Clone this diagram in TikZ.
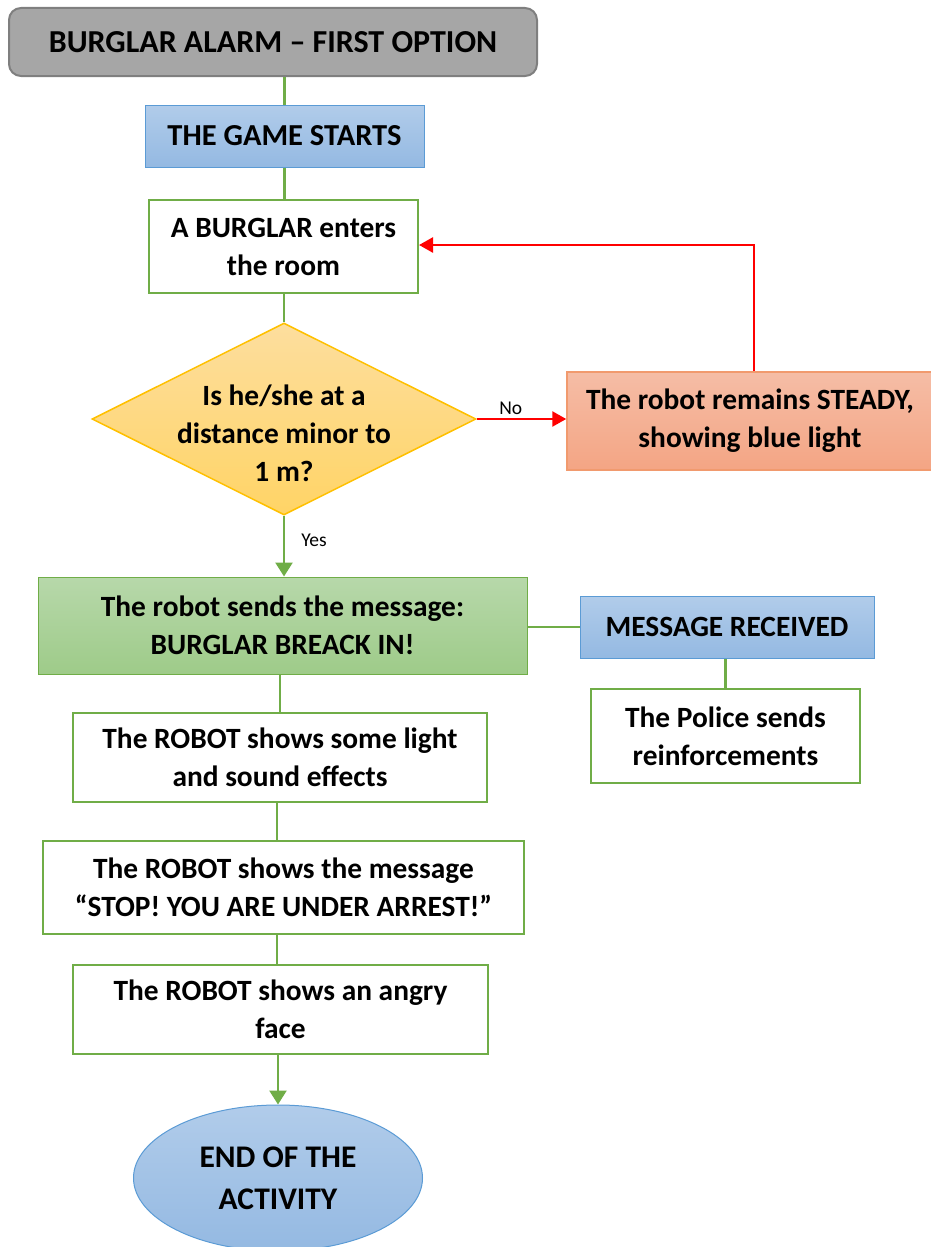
\documentclass[tikz,border=0pt]{standalone}
\usepackage{fontspec}
\setmainfont{Carlito}
\usetikzlibrary{arrows.meta,shapes.geometric}
\definecolor{gline}{HTML}{70AD47}
\definecolor{bblue}{HTML}{5B9BD5}
\definecolor{btop}{HTML}{B1CCEA}
\definecolor{bbot}{HTML}{94B9E2}
\definecolor{gtop}{HTML}{B7D8AA}
\definecolor{gbot}{HTML}{9ECB89}
\definecolor{otop}{HTML}{F5BDA6}
\definecolor{obot}{HTML}{F4A584}
\definecolor{oborder}{HTML}{F19A6E}
\definecolor{ytop}{HTML}{FDDE9E}
\definecolor{ybot}{HTML}{FFD466}
\definecolor{yborder}{HTML}{FFC000}
\definecolor{titlefill}{HTML}{A6A6A6}
\definecolor{titleborder}{HTML}{7F7F7F}
\tikzset{
  txt/.style={font=\fontsize{29.4}{38}\selectfont\bfseries, align=center, inner sep=0pt},
  whitebox/.style={txt, draw=gline, line width=2pt, fill=white, minimum width=#1},
  bluebox/.style={txt, draw=bblue, line width=1pt, top color=btop, bottom color=bbot},
  conn/.style={draw=gline, line width=2.5pt},
  connarrow/.style={conn, -{Triangle[length=14pt,width=17pt]}},
  redarrow/.style={draw=red, line width=2.5pt, -{Triangle[length=14pt,width=15pt]}},
  lab/.style={font=\fontsize{19.5}{22}\selectfont, inner sep=0pt}
}
\begin{document}
\begin{tikzpicture}[x=1pt,y=-1pt]
\useasboundingbox (0,0) rectangle (931,1247);
% title
\node[txt, font=\fontsize{32}{38}\selectfont\bfseries, draw=titleborder, line width=2pt, fill=titlefill, rounded corners=12pt,
      minimum width=528pt, minimum height=68pt] (title) at (273,42) {BURGLAR ALARM -- FIRST OPTION};
% game starts
\node[bluebox, font=\fontsize{30.5}{38}\selectfont\bfseries, minimum width=279pt, minimum height=62pt] (start) at (284.5,136) {THE GAME STARTS};
% burglar enters
\node[whitebox=269pt, minimum height=93pt] (enter) at (283.5,246.5) {A BURGLAR enters\\the room};
% diamond (shape) and its text
\node[diamond, draw=yborder, line width=1.5pt, top color=ytop, bottom color=ybot, inner sep=0pt,
      minimum width=384pt, minimum height=192pt, aspect=2] (dec) at (284,419) {};
\node[txt] (dectext) at (284,433) {Is he/she at a\\distance minor to\\1 m?};
% steady
\node[txt, draw=oborder, line width=1.5pt, top color=otop, bottom color=obot,
      minimum width=366pt, minimum height=98pt] (steady) at (750,421) {The robot remains STEADY,\\showing blue light};
% sends message
\node[txt, draw=gline, line width=1pt, top color=gtop, bottom color=gbot,
      minimum width=489pt, minimum height=97pt] (send) at (282.5,625.5) {The robot sends the message:\\BURGLAR BREACK IN!};
% message received
\node[bluebox, minimum width=294pt, minimum height=62pt] (recv) at (727,627) {MESSAGE RECEIVED};
% police
\node[whitebox=269pt, minimum height=94pt] (police) at (725.5,736) {The Police sends\\reinforcements};
% light
\node[whitebox=414pt, minimum height=89pt] (light) at (280,757.5) {The ROBOT shows some light\\and sound effects};
% stop
\node[whitebox=481pt, minimum height=93pt] (stop) at (283.5,887.5) {The ROBOT shows the message\\``STOP! YOU ARE UNDER ARREST!''};
% angry
\node[whitebox=415pt, minimum height=89pt] (angry) at (280.5,1009.5) {The ROBOT shows an angry\\face};
% end
\node[txt, font=\fontsize{31.5}{42}\selectfont\bfseries, ellipse, draw=bblue, line width=1pt, top color=btop, bottom color=bbot,
      minimum width=289pt, minimum height=146pt] (end) at (278,1178) {END OF THE\\ACTIVITY};

% connectors
\draw[conn] (title.south -| start.north) -- (start.north);
\draw[conn] (start.south) -- (start.south |- enter.north);
\draw[conn] (enter.south -| dec.north) -- (dec.north);
\draw[redarrow] (dec.east) -- node[lab, above=3pt, pos=0.38] {No} (dec.east -| steady.west);
\coordinate (corner) at (754,245);
\draw[redarrow] (steady.north -| corner) -- (corner) -- (corner -| enter.east);
\draw[connarrow] (dec.south) -- node[lab, right=16pt, pos=0.4] {Yes} (dec.south |- send.north);
\draw[conn] (send.east |- recv.west) -- (recv.west);
\draw[conn] (recv.south -| police.north) -- (police.north);
\draw[conn] (send.south -| 280,0) -- (light.north -| 280,0);
\draw[conn] (light.south -| 277,0) -- (stop.north -| 277,0);
\draw[conn] (stop.south -| 277,0) -- (angry.north -| 277,0);
\draw[connarrow] (angry.south -| end.north) -- (end.north);
\end{tikzpicture}
\end{document}
